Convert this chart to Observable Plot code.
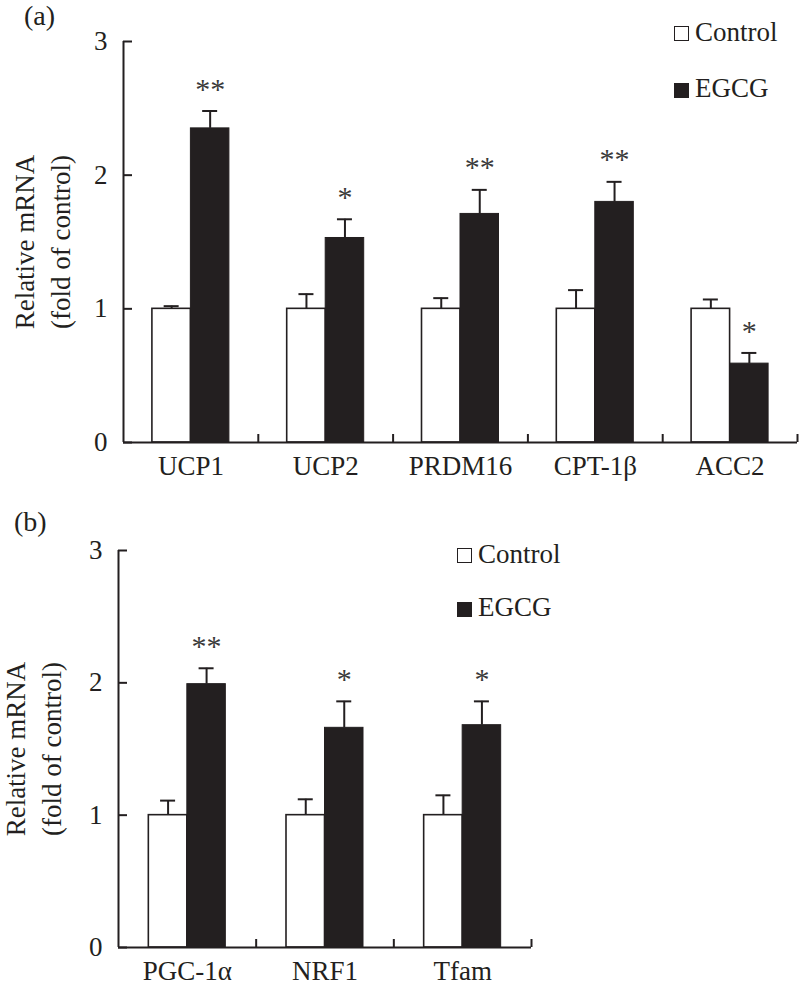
<!DOCTYPE html>
<html>
<head>
<meta charset="utf-8">
<script src="https://cdn.jsdelivr.net/npm/d3@7"></script>
<script src="https://cdn.jsdelivr.net/npm/@observablehq/plot@0.6"></script>
<style>
  html, body { margin: 0; padding: 0; background: #fff; }
  #wrap { position: relative; width: 800px; height: 988px; font-family: "Liberation Serif", "Times New Roman", serif; color: #231f20; }
  .abs { position: absolute; }
  .lbl { font-size: 28px; line-height: 28px; white-space: nowrap; }
  .leg { font-size: 27px; line-height: 27px; white-space: nowrap; }
  .sq { position: absolute; width: 13px; height: 13px; border: 1.5px solid #231f20; }
</style>
</head>
<body>
<div id="wrap">
  <div id="pa" class="abs" style="left:0;top:0"></div>
  <div id="pb" class="abs" style="left:0;top:490px"></div>

  <div class="abs lbl" style="left:24px;top:2px">(a)</div>
  <div class="abs lbl" style="left:14px;top:508px">(b)</div>

  <div class="sq" style="left:674px;top:26px;background:#fff"></div>
  <div class="abs leg" style="left:695px;top:19px">Control</div>
  <div class="sq" style="left:674px;top:83px;background:#231f20"></div>
  <div class="abs leg" style="left:695px;top:75px">EGCG</div>

  <div class="sq" style="left:457px;top:548px;background:#fff"></div>
  <div class="abs leg" style="left:478px;top:541px">Control</div>
  <div class="sq" style="left:457px;top:602px;background:#231f20"></div>
  <div class="abs leg" style="left:478px;top:594px">EGCG</div>
</div>
<script>
// ---- Data: panel (a) ----
const genesA = ["UCP1", "UCP2", "PRDM16", "CPT-1β", "ACC2"];
const controlA = [1, 1, 1, 1, 1];
const controlErrA = [0.02, 0.11, 0.08, 0.14, 0.07];
const egcgA = [2.35, 1.53, 1.71, 1.80, 0.59];
const egcgErrA = [0.13, 0.14, 0.18, 0.15, 0.08];
const sigA = ["**", "*", "**", "**", "*"];

// ---- Data: panel (b) ----
const genesB = ["PGC-1α", "NRF1", "Tfam"];
const controlB = [1, 1, 1];
const controlErrB = [0.11, 0.12, 0.15];
const egcgB = [1.99, 1.66, 1.68];
const egcgErrB = [0.12, 0.20, 0.18];
const sigB = ["**", "*", "*"];

const yTicks = [0, 1, 2, 3];
const INK = "#231f20";

function panel({genes, ctrl, ctrlErr, egcg, egcgErr, sig, width, height, mt, mb, ml, mr, titleDx}) {
  const n = genes.length;
  const bandPx = (width - ml - mr) / n;
  const unitPx = (height - mt - mb) / 3;
  const W = 38.5 / bandPx;        // bar width in band units
  const C = 7.5 / bandPx;         // half cap width
  const rows = genes.flatMap((g, i) => [
    {gene: g, i, group: "Control", v: ctrl[i], e: ctrlErr[i], s: null},
    {gene: g, i, group: "EGCG", v: egcg[i], e: egcgErr[i], s: sig[i]}
  ]);
  const x1 = d => d.group === "Control" ? d.i + 0.5 - W : d.i + 0.5;
  const x2 = d => x1(d) + W;
  const cx = d => x1(d) + W / 2;
  return Plot.plot({
    width, height,
    marginTop: mt, marginBottom: mb, marginLeft: ml, marginRight: mr,
    style: {fontFamily: "'Liberation Serif', 'Times New Roman', serif", fontSize: "27px", color: INK, background: "transparent", overflow: "visible"},
    x: {type: "linear", domain: [0, n], axis: null},
    y: {domain: [0, 3], axis: null},
    marks: [
      // error bars (upper only)
      Plot.ruleX(rows, {x: cx, y1: d => d.v, y2: d => d.v + d.e, stroke: INK, strokeWidth: 2}),
      Plot.ruleY(rows, {y: d => d.v + d.e, x1: d => cx(d) - C, x2: d => cx(d) + C, stroke: INK, strokeWidth: 2}),
      // bars
      Plot.rectY(rows.filter(d => d.group === "Control"), {x1, x2, y1: 0, y2: d => d.v, fill: "#fff", stroke: INK, strokeWidth: 1.6}),
      Plot.rectY(rows.filter(d => d.group === "EGCG"), {x1, x2, y1: 0, y2: d => d.v, fill: INK, stroke: INK, strokeWidth: 1}),
      // significance stars
      Plot.text(rows.filter(d => d.s), {x: cx, y: d => d.v + d.e, text: d => d.s, dy: -22, fontSize: 30, fill: "#3a3a3a"}),
      // axis lines
      Plot.ruleX([0], {y1: 0, y2: 3, stroke: INK, strokeWidth: 2}),
      Plot.ruleY([0], {x1: 0, x2: n, stroke: INK, strokeWidth: 2}),
      // inward y ticks
      Plot.ruleY(yTicks, {x1: 0, x2: 9 / bandPx, stroke: INK, strokeWidth: 2}),
      // inward group separator ticks on x axis
      Plot.ruleX(d3.range(1, n + 1), {y1: 0, y2: 8 / unitPx, stroke: INK, strokeWidth: 2}),
      // tick labels
      Plot.axisY({ticks: yTicks, tickSize: 0, tickPadding: 16, tickFormat: d3.format("d"), fontSize: 27, label: null, fill: INK}),
      Plot.axisX({ticks: d3.range(n).map(i => i + 0.5), tickFormat: t => genes[Math.floor(t)], tickSize: 0, tickPadding: 13, fontSize: 27, label: null, fill: INK}),
      // y axis title
      Plot.text(["Relative mRNA\n(fold of control)"], {frameAnchor: "left", textAnchor: "middle", lineAnchor: "middle", rotate: -90, dx: titleDx, lineHeight: 1.33, fontSize: 27, fill: INK})
    ]
  });
}

document.getElementById("pa").appendChild(panel({
  genes: genesA, ctrl: controlA, ctrlErr: controlErrA, egcg: egcgA, egcgErr: egcgErrA, sig: sigA,
  width: 800, height: 490, mt: 41, mb: 48, ml: 123, mr: 3, titleDx: -83
}));
document.getElementById("pb").appendChild(panel({
  genes: genesB, ctrl: controlB, ctrlErr: controlErrB, egcg: egcgB, egcgErr: egcgErrB, sig: sigB,
  width: 800, height: 498, mt: 60, mb: 41, ml: 118, mr: 269, titleDx: -87
}));
</script>
</body>
</html>
